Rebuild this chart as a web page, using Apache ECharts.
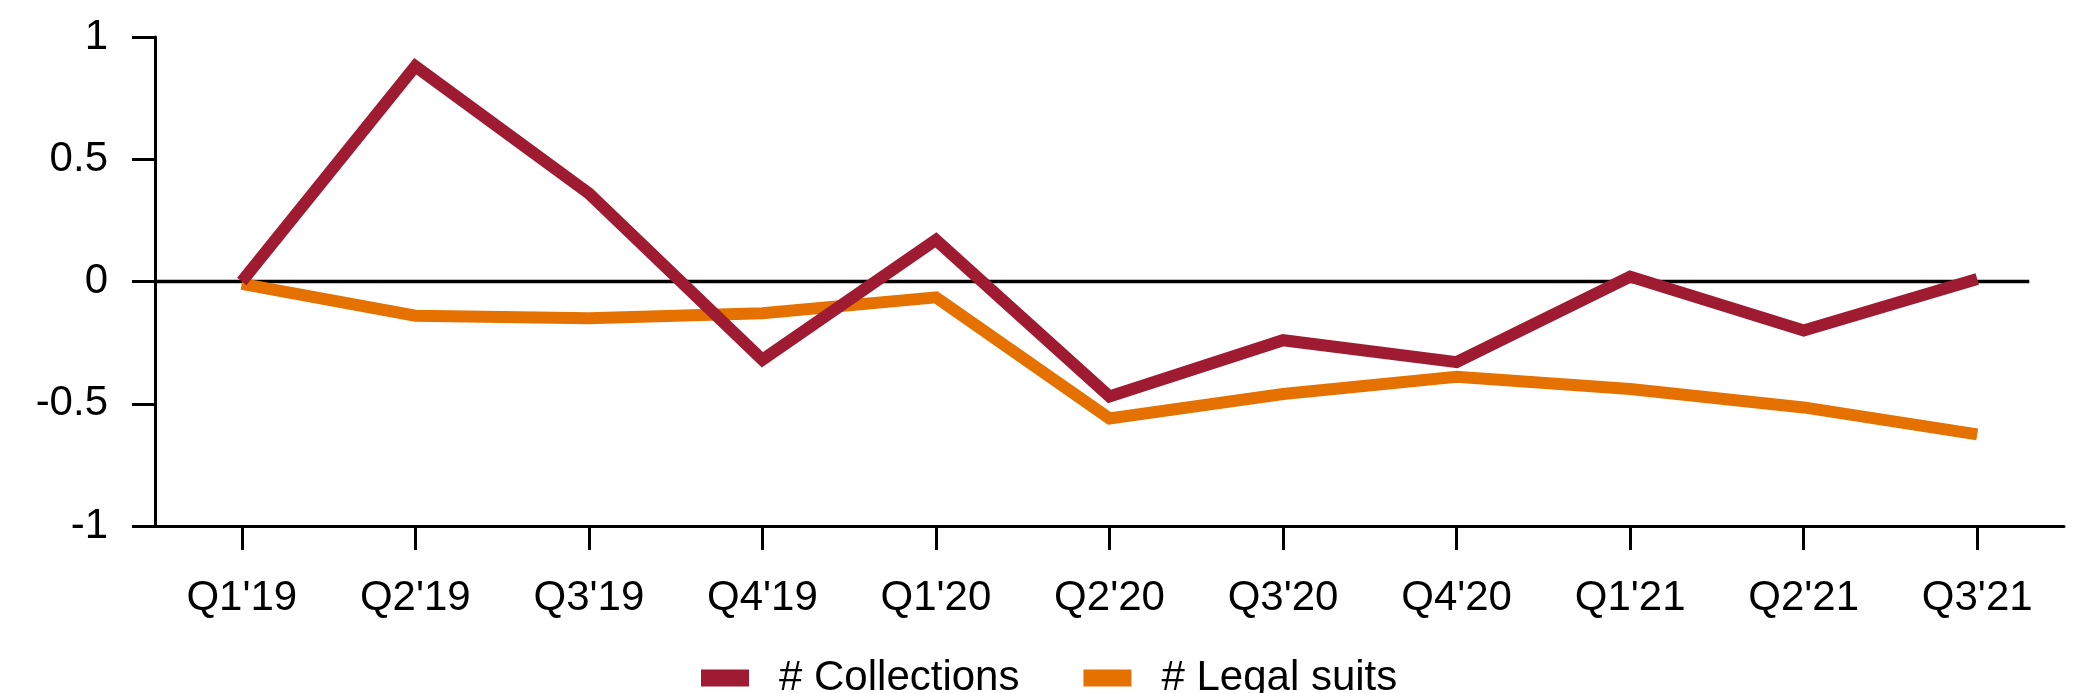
<!DOCTYPE html>
<html>
<head>
<meta charset="utf-8">
<script src="https://cdn.jsdelivr.net/npm/echarts@6/dist/echarts.min.js"></script>
<style>
html,body{margin:0;padding:0;background:#fff;}
#chart{width:2076px;height:693px;}
</style>
</head>
<body>
<div id="chart"></div>
<script>
const categories = ["Q1'19","Q2'19","Q3'19","Q4'19","Q1'20","Q2'20","Q3'20","Q4'20","Q1'21","Q2'21","Q3'21"];
const collections = [0, 0.88, 0.36, -0.32, 0.17, -0.47, -0.24, -0.33, 0.02, -0.20, 0.01];
const legalSuits = [-0.01, -0.14, -0.15, -0.13, -0.065, -0.56, -0.46, -0.39, -0.44, -0.515, -0.625];
const seriesNames = ["# Collections", "# Legal suits"];
// zero reference line, in category-index units (from the y-axis to just past the last point)
const zeroLine = [[-0.5, 0], [10.3, 0]];

const FONT = "'Liberation Sans', Arial, sans-serif";
const chart = echarts.init(document.getElementById('chart'), null, {renderer: 'canvas'});
chart.setOption({
  animation: false,
  backgroundColor: '#ffffff',
  grid: {left: 155, right: 12, top: 37, bottom: 167, containLabel: false},
  legend: {
    left: 696, top: 652,
    itemWidth: 48, itemHeight: 17, itemGap: 64,
    icon: 'rect',
    textStyle: {fontFamily: FONT, fontSize: 42, color: '#000', padding: [0, 0, 0, 25]},
    data: seriesNames
  },
  xAxis: [{
    type: 'category',
    data: categories,
    boundaryGap: true,
    position: 'bottom',
    axisLine: {show: true, onZero: false, lineStyle: {color: '#000', width: 3}},
    axisTick: {show: true, alignWithLabel: true, length: 24, lineStyle: {color: '#000', width: 3}},
    axisLabel: {fontFamily: FONT, fontSize: 42, color: '#000', margin: 51},
    splitLine: {show: false}
  }, {
    type: 'value',
    min: -0.5, max: 10.5,
    position: 'top',
    axisLine: {show: false, onZero: false},
    axisTick: {show: false},
    axisLabel: {show: false},
    splitLine: {show: false}
  }],
  yAxis: {
    type: 'value',
    min: -1, max: 1, interval: 0.5,
    axisLine: {show: true, onZero: false, lineStyle: {color: '#000', width: 3}},
    axisTick: {show: true, length: 23, lineStyle: {color: '#000', width: 3}},
    axisLabel: {fontFamily: FONT, fontSize: 42, color: '#000', margin: 47},
    splitLine: {show: false}
  },
  series: [
    {
      name: 'zero',
      type: 'line',
      xAxisIndex: 1,
      data: zeroLine,
      symbol: 'none',
      silent: true,
      lineStyle: {color: '#000', width: 3.5},
      z: 1
    },
    {
      name: seriesNames[0],
      type: 'line',
      data: collections,
      symbol: 'none',
      color: '#9E1B32',
      lineStyle: {color: '#9E1B32', width: 12, join: 'miter', cap: 'butt'},
      z: 3
    },
    {
      name: seriesNames[1],
      type: 'line',
      data: legalSuits,
      symbol: 'none',
      color: '#E57200',
      lineStyle: {color: '#E57200', width: 12, join: 'miter', cap: 'butt'},
      z: 2
    }
  ]
});
</script>
</body>
</html>
